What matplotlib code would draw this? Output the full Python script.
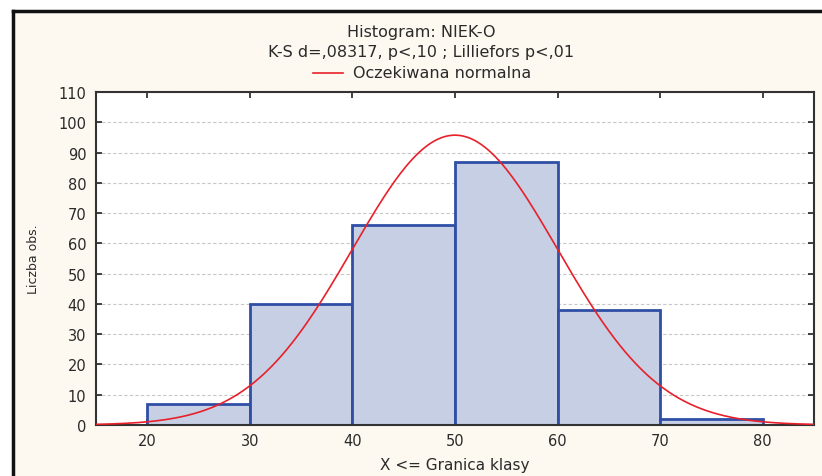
import numpy as np
import matplotlib
matplotlib.use('Agg')
import matplotlib.pyplot as plt
from matplotlib.lines import Line2D

plt.rcParams['font.family'] = ['DejaVu Sans']

# class bounds and counts
bin_edges = [20, 30, 40, 50, 60, 70, 80]
counts = [7, 40, 66, 87, 38, 2]
# expected normal parameters
mean = 50.0
sd = 10.0
n_obs = sum(counts)
bin_width = 10

x_ticks = [20, 30, 40, 50, 60, 70, 80]
y_ticks = list(range(0, 111, 10))

title1 = 'Histogram: NIEK-O'
title2 = 'K-S d=,08317, p<,10 ; Lilliefors p<,01'
legend_label = 'Oczekiwana normalna'

bg = '#fdf9f0'
fs = 10.5
fs_title = 11.5
txt = '#2a2a2a'
fig = plt.figure(figsize=(8.22, 4.77), dpi=100, facecolor='white')

# cream panel with black frame (top and left)
panel = fig.add_axes([12.5 / 822, 0, 1 - 12.5 / 822, 1 - 12 / 477])
panel.set_facecolor(bg)
panel.set_xticks([])
panel.set_yticks([])
for s in ['right', 'bottom']:
    panel.spines[s].set_visible(False)
for s in ['top', 'left']:
    panel.spines[s].set_linewidth(2.5)
    panel.spines[s].set_color('#111111')
panel.set_zorder(0)

ax = fig.add_axes([96 / 822, 1 - 426 / 477, (814 - 96) / 822, (426 - 93) / 477])
ax.set_facecolor('white')
ax.set_zorder(1)

lefts = bin_edges[:-1]
ax.bar(lefts, counts, width=bin_width, align='edge', color='#c7cfe4',
       edgecolor='#2f4fa6', linewidth=2, zorder=2)

xs = np.linspace(15, 85, 400)
ys = n_obs * bin_width / (sd * np.sqrt(2 * np.pi)) * np.exp(-0.5 * ((xs - mean) / sd) ** 2)
ax.plot(xs, ys, color='#e8202a', linewidth=1.2, zorder=3)

ax.set_xlim(15, 85)
ax.set_ylim(0, 110)
ax.set_xticks(x_ticks)
ax.set_yticks(y_ticks)
ax.yaxis.grid(True, linestyle=(0, (3, 2)), color='#c8c8c8', linewidth=0.8)
ax.set_axisbelow(True)
ax.tick_params(direction='in', length=4, width=1.2, color='#222222',
               top=True, right=True, labelsize=fs, labelcolor=txt, pad=7)
ax.tick_params(axis='x', pad=6)
for s in ax.spines.values():
    s.set_linewidth(1.5)
    s.set_color('#333333')

ax.set_xlabel('X <= Granica klasy', fontsize=11, color=txt, labelpad=6)
ax.set_ylabel('Liczba obs.', fontsize=9, color=txt, labelpad=13)

cx = 421 / 822
fig.text(cx, 1 - 32 / 477, title1, ha='center', va='center', fontsize=fs_title, color=txt)
fig.text(cx, 1 - 53 / 477, title2, ha='center', va='center', fontsize=fs_title, color=txt)
fig.add_artist(Line2D([313 / 822, 343 / 822], [1 - 74 / 477, 1 - 74 / 477],
                      color='#e8202a', linewidth=1.2))
fig.text(353 / 822, 1 - 74 / 477, legend_label, ha='left', va='center', fontsize=fs_title, color=txt)

fig.savefig('out.png', dpi=100, facecolor='white')
